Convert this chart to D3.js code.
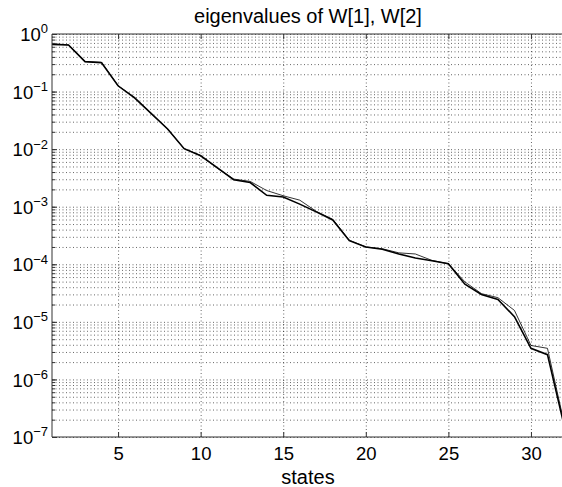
<!DOCTYPE html>
<html>
<head>
<meta charset="utf-8">
<script src="https://cdn.jsdelivr.net/npm/d3@7"></script>
<style>
  body { margin: 0; background: #fff; }
  svg { display: block; font-family: "Liberation Sans", Arial, sans-serif; }
  .grid line { stroke: #000; stroke-width: 1; stroke-dasharray: 1,2.5; opacity: 0.6; }
  .grid path { display: none; }
  .axis path { display: none; }
  .axis line { stroke: #333; }
  .axis text { fill: #000; font-size: 18.5px; }
</style>
</head>
<body>
<div id="chart"></div>
<script>
// state index 1..32
const states = d3.range(1, 33);

// eigenvalues of W[1] (thick line)
const eigW1 = [0.661, 0.646, 0.331, 0.316, 0.126, 0.0776, 0.0417, 0.0224, 0.0102, 0.00767,
  0.00479, 0.00295, 0.00263, 0.00158, 0.00148, 0.00111, 0.000813, 0.000589, 0.000257, 0.000200,
  0.000182, 0.000151, 0.000129, 0.000115, 0.000102, 4.5e-5, 2.99e-5, 2.45e-5, 1.23e-5, 3.47e-6,
  2.69e-6, 1.62e-7];

// eigenvalues of W[2] (thin line)
const eigW2 = [0.676, 0.646, 0.331, 0.324, 0.126, 0.0794, 0.0417, 0.0224, 0.0102, 0.00776,
  0.00468, 0.00302, 0.00275, 0.00191, 0.00155, 0.00130, 0.000832, 0.000603, 0.000263, 0.000200,
  0.000186, 0.000158, 0.000151, 0.000117, 0.000102, 4.95e-5, 3.09e-5, 2.63e-5, 1.58e-5, 3.89e-6,
  3.47e-6, 1.78e-7];

const xTicks = [5, 10, 15, 20, 25, 30];
const yDecades = [-7, -6, -5, -4, -3, -2, -1, 0];

class LogLineChart {
    constructor(_config) {
        this.config = {
            parentElement: _config.parentElement,
            containerWidth: _config.containerWidth || 562,
            containerHeight: _config.containerHeight || 487,
            margin: _config.margin || { top: 34, right: -2, bottom: 50, left: 52 }
        }
        this.initVis();
    }

    initVis() {
        let vis = this;
        vis.width = vis.config.containerWidth - vis.config.margin.left - vis.config.margin.right;
        vis.height = vis.config.containerHeight - vis.config.margin.top - vis.config.margin.bottom;

        vis.xScale = d3.scaleLinear().domain([1, 32]).range([0, vis.width]);
        vis.yScale = d3.scaleLog().domain([1e-7, 1]).range([vis.height, 0]);

        vis.svg = d3.select(vis.config.parentElement)
            .append('svg')
            .attr('width', vis.config.containerWidth)
            .attr('height', vis.config.containerHeight);

        vis.chart = vis.svg.append('g')
            .attr('transform', `translate(${vis.config.margin.left},${vis.config.margin.top})`);

        // minor + major values for the log grid
        vis.yMinor = [];
        yDecades.slice(0, -1).forEach(k => {
            for (let m = 1; m < 10; m++) vis.yMinor.push(m * Math.pow(10, k));
        });
        vis.yMinor.push(1);
        vis.yMajor = yDecades.map(k => Math.pow(10, k));
    }

    renderVis() {
        let vis = this;

        // Grid
        vis.chart.append('g')
            .attr('class', 'grid')
            .call(d3.axisLeft(vis.yScale).tickValues(vis.yMinor).tickSize(-vis.width).tickFormat(''));
        vis.chart.append('g')
            .attr('class', 'grid')
            .attr('transform', `translate(0,${vis.height})`)
            .call(d3.axisBottom(vis.xScale).tickValues(xTicks).tickSize(-vis.height).tickFormat(''));

        // Lines
        let line = d3.line()
            .x((d, i) => vis.xScale(states[i]))
            .y(d => vis.yScale(d));

        vis.chart.append('path')
            .datum(eigW2)
            .attr('fill', 'none')
            .attr('stroke', '#000')
            .attr('stroke-width', 0.8)
            .attr('d', line);

        vis.chart.append('path')
            .datum(eigW1)
            .attr('fill', 'none')
            .attr('stroke', '#000')
            .attr('stroke-width', 1.6)
            .attr('d', line);

        // Axes ticks (inward)
        vis.chart.append('g')
            .attr('class', 'axis')
            .call(d3.axisLeft(vis.yScale).tickValues(vis.yMinor).tickSize(-3).tickFormat(''));

        let yAxisG = vis.chart.append('g')
            .attr('class', 'axis y-axis')
            .call(d3.axisLeft(vis.yScale).tickValues(vis.yMajor).tickSize(-5).tickPadding(5));

        yAxisG.selectAll('.tick text')
            .attr('x', -4)
            .attr('dy', '0.36em')
            .style('text-anchor', 'end')
            .each(function(d) {
                let exp = Math.round(Math.log10(d));
                let t = d3.select(this).text('');
                t.append('tspan').text('10');
                t.append('tspan')
                    .attr('dy', '-0.6em')
                    .attr('font-size', '13px')
                    .text(exp < 0 ? '\u2212' + (-exp) : String(exp));
            });

        let xAxisG = vis.chart.append('g')
            .attr('class', 'axis x-axis')
            .attr('transform', `translate(0,${vis.height})`)
            .call(d3.axisBottom(vis.xScale).tickValues(xTicks).tickSize(-5));

        xAxisG.selectAll('.tick text')
            .attr('y', 23)
            .attr('dy', 0);

        vis.chart.append('g')
            .attr('class', 'axis')
            .call(d3.axisTop(vis.xScale).tickValues(xTicks).tickSize(-5).tickFormat(''));

        // Frame
        vis.chart.append('path')
            .attr('d', `M${vis.width},0H0V${vis.height}H${vis.width}`)
            .attr('fill', 'none')
            .attr('stroke', '#333')
            .attr('stroke-width', 1);

        // Title and label
        vis.svg.append('text')
            .attr('x', vis.config.margin.left + vis.width / 2)
            .attr('y', 23)
            .style('text-anchor', 'middle')
            .style('font-size', '20px')
            .text('eigenvalues of W[1], W[2]');

        vis.svg.append('text')
            .attr('x', vis.config.margin.left + vis.width / 2)
            .attr('y', 484)
            .style('text-anchor', 'middle')
            .style('font-size', '20px')
            .text('states');
    }
}

let chart = new LogLineChart({ parentElement: '#chart' });
chart.renderVis();
</script>
</body>
</html>
